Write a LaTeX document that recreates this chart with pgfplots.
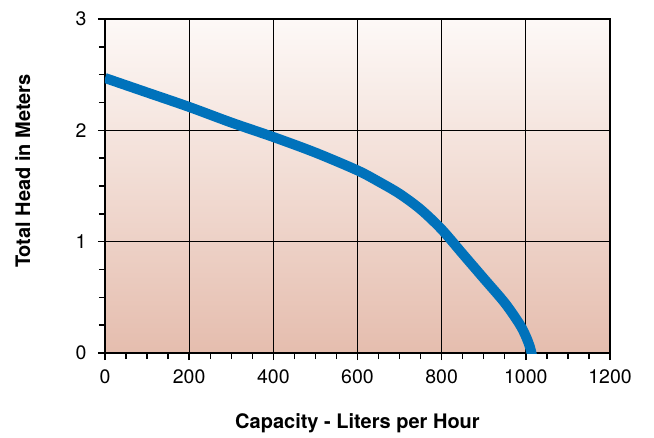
\documentclass[border=0pt]{standalone}
\usepackage{pgfplots}
\pgfplotsset{compat=1.18}
\usepackage{fontspec}
\setmainfont{TeX Gyre Heros}

\definecolor{bgtop}{RGB}{253,249,247}
\definecolor{bgbot}{RGB}{229,189,174}
\definecolor{curveblue}{RGB}{0,114,187}

\begin{document}
\begin{tikzpicture}
  \path[use as bounding box] (-105pt,-84pt) rectangle (549pt,353pt);
  \begin{axis}[
    at={(0,0)}, anchor=south west,
    width=505pt, height=334pt, scale only axis,
    xmin=0, xmax=1200, ymin=0, ymax=3,
    xtick={0,200,...,1200}, ytick={0,1,2,3},
    minor x tick num=3, minor y tick num=3,
    tick pos=left, tick align=outside,
    major tick length=7pt, minor tick length=6pt,
    every tick/.style={black, line width=1.4pt},
    grid=major,
    major grid style={black, line width=1.3pt},
    axis line style={line width=1.8pt},
    axis background/.style={top color=bgtop, bottom color=bgbot},
    /pgf/number format/assume math mode=true,
    /pgf/number format/1000 sep={},
    tick label style={font=\fontsize{19.5}{20}\selectfont},
    xticklabel style={yshift=-6pt},
    yticklabel style={xshift=-8pt},
    xlabel={Capacity - Liters per Hour},
    ylabel={Total Head in Meters},
    label style={font=\fontsize{20}{22}\selectfont\bfseries},
    xlabel style={at={(axis description cs:0.5,-0.21)}, anchor=center},
    ylabel style={at={(axis description cs:-0.163,0.545)}, anchor=center},
    clip=true,
  ]
    \addplot[curveblue, line width=10pt, smooth] coordinates {
      (0,2.47) (100,2.34) (200,2.21) (300,2.07) (400,1.94) (500,1.80)
      (600,1.64) (650,1.54) (700,1.43) (750,1.29) (800,1.11) (850,0.89)
      (900,0.67) (950,0.45) (985,0.26) (1000,0.15) (1010,0.05) (1017,-0.06)
    };
  \end{axis}
\end{tikzpicture}
\end{document}
